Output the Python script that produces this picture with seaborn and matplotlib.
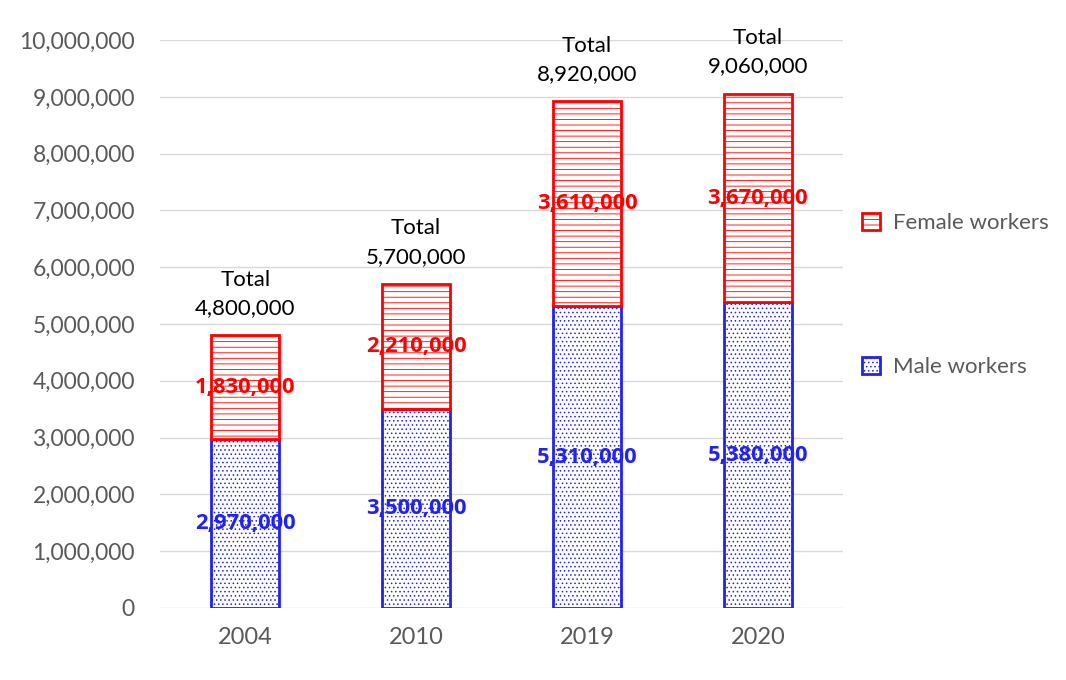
import matplotlib
matplotlib.use("Agg")
import matplotlib.pyplot as plt
import seaborn as sns
import pandas as pd
from matplotlib.patches import Patch
from matplotlib.ticker import FuncFormatter

years = ["2004", "2010", "2019", "2020"]
male = [2970000, 3500000, 5310000, 5380000]
female = [1830000, 2210000, 3610000, 3670000]
totals = [4800000, 5700000, 8920000, 9060000]

sns.set_theme(style="white")
plt.rcParams["font.family"] = ["Lato", "DejaVu Sans"]
plt.rcParams["hatch.linewidth"] = 0.6

GREY = "#595959"
BLUE = "#2222ee"
RED = "#ff0000"

df = pd.DataFrame({"year": years, "male": male, "female": female, "total": totals})

fig = plt.figure(figsize=(10.66, 6.8), dpi=100)
ax = fig.add_axes([0.150, 0.106, 0.641, 0.835])

sns.barplot(data=df, x="year", y="male", ax=ax, color="white", edgecolor=BLUE,
            linewidth=2, hatch="....", width=0.4, zorder=3)
sns.barplot(data=df, x="year", y="female", ax=ax, color="white", edgecolor=RED,
            linewidth=2, hatch="---", width=0.4, bottom=df["male"].values, zorder=3)

lab_font = ["Open Sans", "DejaVu Sans"]
for i, (m, f, t) in enumerate(zip(male, female, totals)):
    ax.text(i, m / 2, f"{m:,}", ha="center", va="center", color=BLUE,
            fontsize=15.8, fontweight="bold", family=lab_font, zorder=5)
    ax.text(i, m + f / 2, f"{f:,}", ha="center", va="center", color=RED,
            fontsize=15.8, fontweight="bold", family=lab_font, zorder=5)
    ax.text(i, t + 300000, f"Total\n{t:,}", ha="center", va="bottom", color="black",
            fontsize=16, linespacing=1.55, zorder=5)

ax.set_xlim(-0.5, 3.5)
ax.set_ylim(0, 10000000)
ax.set_yticks(range(0, 10000001, 1000000))
ax.yaxis.set_major_formatter(FuncFormatter(lambda v, p: f"{int(v):,}"))
ax.grid(axis="y", color="#d9d9d9", linewidth=1, zorder=0)
ax.set_axisbelow(True)
for s in ax.spines.values():
    s.set_visible(False)
ax.tick_params(axis="y", labelsize=16.5, colors=GREY, length=0, pad=18)
ax.tick_params(axis="x", labelsize=17, colors=GREY, length=0, pad=14)
ax.set_xlabel("")
ax.set_ylabel("")

handles = [Patch(facecolor="white", edgecolor=RED, hatch="---", linewidth=2, label="Female workers"),
           Patch(facecolor="white", edgecolor=BLUE, hatch="....", linewidth=2, label="Male workers")]
leg = fig.legend(handles=handles, loc="center left", bbox_to_anchor=(0.79, 0.566),
                 frameon=False, fontsize=16, labelspacing=5.55, handlelength=0.8,
                 handleheight=0.8, handletextpad=0.6)
for t in leg.get_texts():
    t.set_color(GREY)

fig.savefig("out.png", dpi=100)
